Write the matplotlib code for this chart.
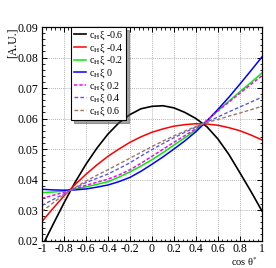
import matplotlib
matplotlib.use('Agg')
import matplotlib.pyplot as plt
from matplotlib.ticker import MultipleLocator, FuncFormatter

# cos(theta*) sample points, values every 0.1
cos_theta = [-1.0, -0.9, -0.8, -0.7, -0.6, -0.5, -0.4, -0.3, -0.2, -0.1, 0.0,
             0.1, 0.2, 0.3, 0.4, 0.5, 0.6, 0.7, 0.8, 0.9, 1.0]

xi_m06 = [0.0180, 0.0252, 0.0323, 0.0390, 0.0450, 0.0503, 0.0549, 0.0586,
          0.0613, 0.0632, 0.0640, 0.0642, 0.0635, 0.0620, 0.0600, 0.0573,
          0.0533, 0.0482, 0.0422, 0.0361, 0.0297]
xi_m04 = [0.0262, 0.0305, 0.0346, 0.0383, 0.0417, 0.0448, 0.0476, 0.0500,
          0.0522, 0.0540, 0.0555, 0.0566, 0.0575, 0.0580, 0.0583, 0.0582,
          0.0578, 0.0570, 0.0560, 0.0546, 0.0530]
xi_m02 = [0.0357, 0.0359, 0.0362, 0.0368, 0.0376, 0.0384, 0.0393, 0.0408,
          0.0425, 0.0444, 0.0465, 0.0488, 0.0513, 0.0537, 0.0563, 0.0593,
          0.0626, 0.0657, 0.0688, 0.0718, 0.0749]
xi_0 = [0.0368, 0.0366, 0.0365, 0.0366, 0.0369, 0.0375, 0.0382, 0.0393,
        0.0407, 0.0427, 0.0450, 0.0474, 0.0500, 0.0527, 0.0557, 0.0592,
        0.0630, 0.0670, 0.0713, 0.0757, 0.0802]
xi_p02 = [0.0338, 0.0348, 0.0358, 0.0369, 0.0381, 0.0391, 0.0401, 0.0415,
          0.0432, 0.0453, 0.0476, 0.0499, 0.0522, 0.0544, 0.0567, 0.0594,
          0.0625, 0.0654, 0.0683, 0.0712, 0.0740]
xi_p04 = [0.0315, 0.0334, 0.0353, 0.0372, 0.0390, 0.0404, 0.0418, 0.0436,
          0.0455, 0.0477, 0.0498, 0.0518, 0.0537, 0.0555, 0.0572, 0.0589,
          0.0605, 0.0622, 0.0638, 0.0654, 0.0670]
xi_p06 = [0.0295, 0.0323, 0.0350, 0.0373, 0.0395, 0.0414, 0.0432, 0.0451,
          0.0470, 0.0489, 0.0508, 0.0526, 0.0543, 0.0559, 0.0574, 0.0587,
          0.0597, 0.0608, 0.0618, 0.0629, 0.0640]

plt.rcParams['font.family'] = ['Liberation Serif', 'DejaVu Serif']
plt.rcParams['mathtext.fontset'] = 'stix'

fig = plt.figure(figsize=(2.76, 2.68), dpi=100)
ax = fig.add_axes([0.152, 0.1026, 0.797, 0.7964])

lab = 'c$_{\\mathrm{H}}$ξ '
ax.plot(cos_theta, xi_m06, color='black', lw=1.2, label=lab + '-0.6')
ax.plot(cos_theta, xi_m04, color='#ff0000', lw=1.1, label=lab + '-0.4')
ax.plot(cos_theta, xi_m02, color='#00ee00', lw=1.1, label=lab + '-0.2')
ax.plot(cos_theta, xi_0, color='#0000ff', lw=1.1, label=lab + '0')
ax.plot(cos_theta, xi_p02, color='#ff00ff', lw=1.1, ls=(0, (2.2, 1.3)), label=lab + '0.2')
ax.plot(cos_theta, xi_p04, color='#5a5ae6', lw=1.0, ls=(0, (2.6, 1.6)), label=lab + '0.4')
ax.plot(cos_theta, xi_p06, color='#9c7866', lw=1.0, ls=(0, (2.6, 1.6)), label=lab + '0.6')

ax.set_xlim(-1, 1)
ax.set_ylim(0.02, 0.09)
ax.xaxis.set_major_locator(MultipleLocator(0.2))
ax.xaxis.set_minor_locator(MultipleLocator(0.04))
ax.yaxis.set_major_locator(MultipleLocator(0.01))
ax.yaxis.set_minor_locator(MultipleLocator(0.002))
ax.xaxis.set_major_formatter(FuncFormatter(lambda v, p: '%g' % round(v, 2)))
ax.yaxis.set_major_formatter(FuncFormatter(lambda v, p: '%.2f' % v))
ax.tick_params(which='both', direction='in', top=True, right=True, labelsize=8.5, pad=2.6)
ax.tick_params(axis='x', which='both', pad=1.6)
ax.tick_params(which='major', length=3.5, width=0.7)
ax.tick_params(which='minor', length=1.8, width=0.6)
ax.grid(True, which='major', color='#999999', ls=(0, (1, 1.5)), lw=0.6)
for s in ax.spines.values():
    s.set_linewidth(0.9)

fig.text(0.045, 0.899, '[A.U.]', rotation=90, ha='center', va='top', fontsize=8.5)
fig.text(0.935, 0.0, 'cos θ$^{*}$', ha='right', va='bottom', fontsize=7.5)

leg = ax.legend(loc='upper left', bbox_to_anchor=(0.133, 1.0), fontsize=7.2,
                frameon=True, fancybox=False, shadow=True, framealpha=1,
                handlelength=1.2, handletextpad=0.3, labelspacing=0.0,
                borderpad=0.25, borderaxespad=0.0)
leg.get_frame().set_edgecolor('black')
leg.get_frame().set_linewidth(0.8)

fig.savefig('out.png', dpi=100)
